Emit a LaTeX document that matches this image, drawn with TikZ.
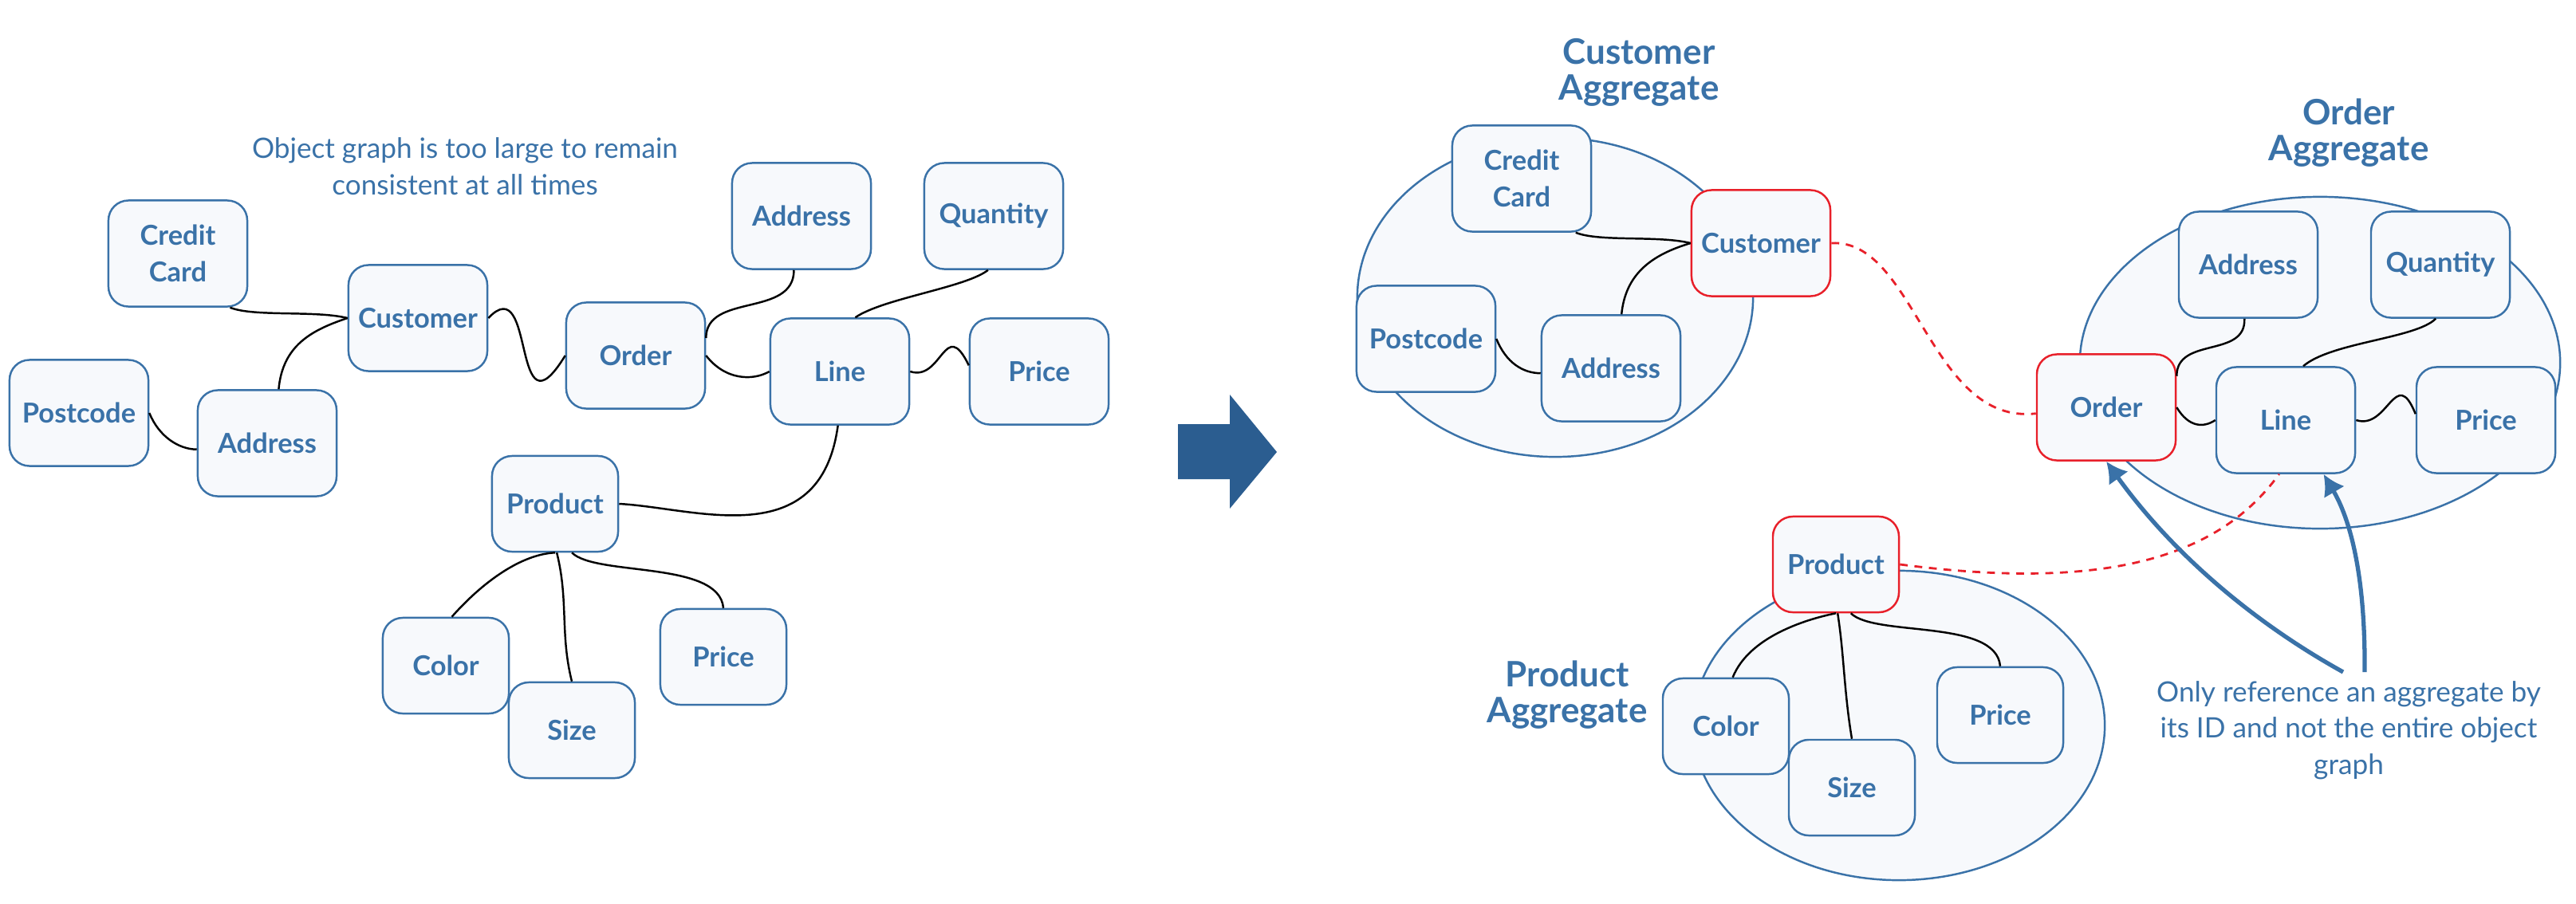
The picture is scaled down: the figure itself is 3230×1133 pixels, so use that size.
\documentclass[tikz,border=0pt]{standalone}
\usepackage{fontspec}
\setmainfont{Lato}
\usepackage{xcolor}
\usetikzlibrary{shapes,arrows.meta,positioning,calc}

\definecolor{entblue}{HTML}{3A72A8}
\definecolor{entfill}{HTML}{F7F9FC}
\definecolor{rootred}{HTML}{E8202A}
\definecolor{bigarrow}{HTML}{2B5D90}

\begin{document}
\begin{tikzpicture}[
    x=0.01cm, y=-0.01cm,
    thick,
    >={Latex[length=0.26cm,width=0.3cm]},
    entity/.style={rectangle, draw=entblue, line width=0.7pt, fill=entfill, rounded corners=0.25cm, minimum width=1.74cm, minimum height=1.33cm, align=center, text=entblue, font=\bfseries\fontsize{9.8}{13}\selectfont, inner sep=2pt},
    subentity/.style={entity, minimum width=1.58cm, minimum height=1.2cm},
    root/.style={draw=rootred},
    aggregate/.style={draw=entblue, line width=0.7pt, fill=entfill},
    link/.style={draw=black, line width=0.7pt},
    ref/.style={draw=rootred, line width=0.8pt, dash pattern=on 2.8pt off 2.4pt},
    pointer/.style={->, draw=entblue, line width=1.5pt},
    title/.style={align=center, text=entblue, font=\bfseries\fontsize{12.5}{12.8}\selectfont},
    note/.style={align=center, text=entblue, font=\fontsize{10}{13}\selectfont}
]
\useasboundingbox (0,0) rectangle (3230,1133);

% Whole object graph
\node [note] (graphnote) at (583,209) {Object graph is too large to remain\\consistent at all times};

\node [entity] (lcard) at (223,318) {Credit\\Card};
\node [entity] (lcust) at (524,399) {Customer};
\node [entity] (lorder) at (797,446) {Order};
\node [entity] (laddr1) at (1005,271) {Address};
\node [entity] (lqty) at (1246,271) {Quantity};
\node [entity] (lline) at (1053,466) {Line};
\node [entity] (lprice) at (1303,466) {Price};
\node [entity] (lpost) at (99,518) {Postcode};
\node [entity] (laddr2) at (335,556) {Address};
\node [subentity] (lprod) at (696,632) {Product};
\node [subentity] (lcolor) at (559,835) {Color};
\node [subentity] (lsize) at (717,916) {Size};
\node [subentity] (lprice2) at (907,824) {Price};

\draw [link] (lcard.-46) .. controls +(30,12) and +(-40,-10) .. (lcust.west);
\draw [link] (lcust.west) .. controls +(-45,15) and +(5,-55) .. (laddr2.78);
\draw [link] (lpost.east) .. controls +(12,30) and +(-22,0) .. (laddr2.185);
\draw [link] (lcust.east) .. controls +(60,-63) and +(-68,111) .. (lorder.west);
\draw [link] (lorder.14) .. controls +(0,-57) and +(0,60) .. (laddr1.-98);
\draw [link] (lorder.east) .. controls +(24,31) and +(-21,12) .. (lline.west);
\draw [link] (lqty.-96) .. controls +(-28,22) and +(35,-24) .. (lline.74);
\draw [link] (lline.east) .. controls +(40,13) and +(-30,-62) .. (lprice.175);
\draw [link] (lline.-92) .. controls +(-22,162) and +(96,5) .. (lprod.east);
\draw [link] (lprod.south) .. controls +(-43,2) and +(38,-43) .. (lcolor.83);
\draw [link] (lprod.-88) .. controls +(15,60) and +(-15,-60) .. (lsize.north);
\draw [link] (lprod.-71) .. controls +(30,30) and +(-5,-60) .. (lprice2.north);

% Arrow
\fill [bigarrow] (1477,532) -- (1542,532) -- (1542,495) -- (1601,567) -- (1542,638) -- (1542,601) -- (1477,601) -- cycle;

% Aggregates
\draw [aggregate] (1950,373) ellipse [x radius=2.48cm, y radius=2cm];
\draw [aggregate] (2909,455) ellipse [x radius=3.01cm, y radius=2.08cm];
\draw [aggregate] (2381,910) ellipse [x radius=2.58cm, y radius=1.94cm];

\node [title] (custtitle) at (2055,91) {Customer\\Aggregate};
\node [title] (ordertitle) at (2945,167) {Order\\Aggregate};
\node [title] (prodtitle) at (1965,872) {Product\\Aggregate};

% Customer aggregate
\node [entity] (rcard) at (1908,224) {Credit\\Card};
\node [entity, root] (rcust) at (2208,305) {Customer};
\node [entity] (rpost) at (1788,425) {Postcode};
\node [entity] (raddr) at (2020,462) {Address};

% Order aggregate
\node [entity] (raddr1) at (2819,332) {Address};
\node [entity] (rqty) at (3060,332) {Quantity};
\node [entity, root] (rorder) at (2641,511) {Order};
\node [entity] (rline) at (2866,527) {Line};
\node [entity] (rprice) at (3117,527) {Price};

% Product aggregate
\node [subentity, root] (rprod) at (2302,708) {Product};
\node [subentity] (rcolor) at (2164,911) {Color};
\node [subentity] (rsize) at (2322,988) {Size};
\node [subentity] (rprice2) at (2508,897) {Price};

\draw [link] (rcard.-45) .. controls +(30,12) and +(-40,-10) .. (rcust.west);
\draw [link] (rcust.west) .. controls +(-50,15) and +(5,-50) .. (raddr.79);
\draw [link] (rpost.east) .. controls +(12,30) and +(-22,0) .. (raddr.184);
\draw [link] (rorder.24) .. controls +(0,-50) and +(2,50) .. (raddr1.-94);
\draw [link] (rorder.east) .. controls +(15,25) and +(-15,10) .. (rline.west);
\draw [link] (rqty.-95) .. controls +(-25,25) and +(35,-30) .. (rline.72);
\draw [link] (rline.east) .. controls +(40,13) and +(-25,-62) .. (rprice.175);
\draw [link] (rprod.south) .. controls +(-40,8) and +(20,-50) .. (rcolor.82);
\draw [link] (rprod.-88) .. controls +(8,50) and +(-10,-60) .. (rsize.north);
\draw [link] (rprod.-73) .. controls +(30,30) and +(-5,-60) .. (rprice2.north);

% References by ID
\draw [ref] (rcust.east) .. controls +(105,-6) and +(-133,15) .. (rorder.185);
\draw [ref] (rprod.east) .. controls +(259,34) and +(-75,104) .. (rline.-97);

\node [note] (refnote) at (2945,916) {Only reference an aggregate by\\its ID and not the entire object\\graph};
\coordinate (tail1) at (2938,843);
\coordinate (tail2) at (2965,843);
\draw [pointer] (tail1) .. controls +(-119,-66) and +(79,110) .. (rorder.south);
\draw [pointer] (tail2) .. controls +(1,-123) and +(33,56) .. (rline.-55);

\end{tikzpicture}
\end{document}
